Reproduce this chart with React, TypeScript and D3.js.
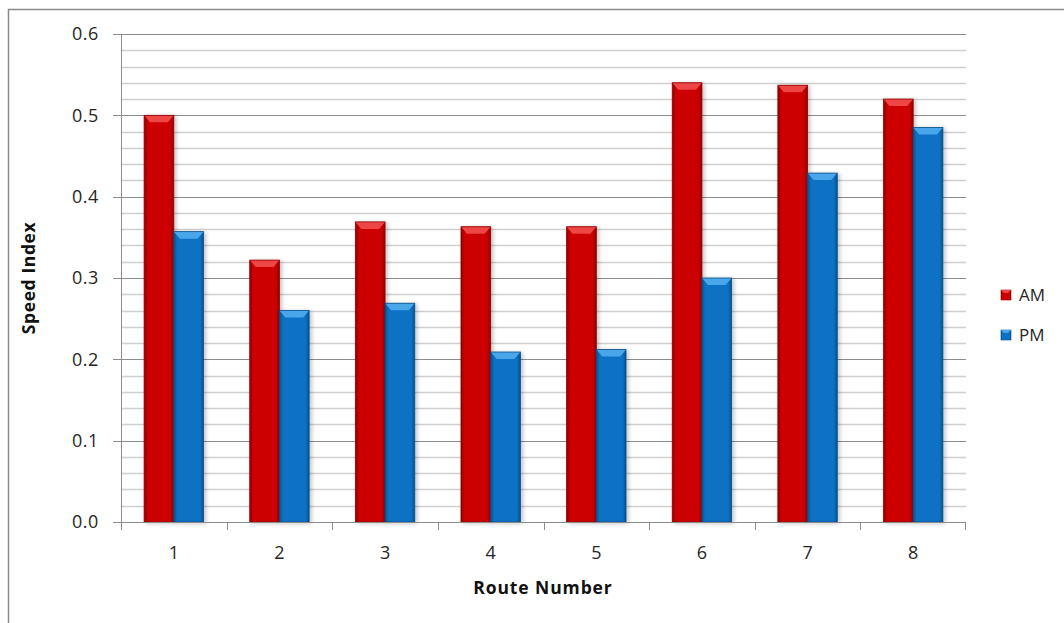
import React from "react";
import * as d3 from "d3";

const routes = ["1", "2", "3", "4", "5", "6", "7", "8"];
const amValues = [0.5, 0.322, 0.369, 0.363, 0.363, 0.54, 0.537, 0.52];
const pmValues = [0.357, 0.26, 0.269, 0.209, 0.212, 0.3, 0.429, 0.485];
const seriesNames = ["AM", "PM"];
const yTicks = [0, 0.1, 0.2, 0.3, 0.4, 0.5, 0.6];

const W = 1064;
const H = 623;
const left = 121;
const right = 966;
const top = 34;
const bottom = 522;
const FONT = "'Open Sans', sans-serif";

export default function App() {
  const x = d3.scaleBand<string>().domain(routes).range([left, right]).paddingInner(0).paddingOuter(0);
  const inner = d3.scaleBand<string>().domain(seriesNames).range([0, 59.4]);
  const y = d3.scaleLinear().domain([0, 0.6]).range([bottom, top]);
  const minor = d3.range(0, 31).map((i) => i * 0.02);
  const colors: Record<string, { base: string; dark: string; light: string }> = {
    AM: { base: "#cc0000", dark: "#8f0000", light: "#ee4444" },
    PM: { base: "#0a72c4", dark: "#07508c", light: "#4aa6ea" },
  };
  const data = [amValues, pmValues];
  const groupOffset = (x.bandwidth() - 59.4) / 2;

  return (
    <svg width={W} height={H} style={{ position: "absolute", left: 0, top: 0, background: "#fff" }}>
      <defs>
        {seriesNames.map((s) => (
          <linearGradient key={s} id={`g${s}`} x1="0" x2="1" y1="0" y2="0">
            <stop offset="0" stopColor={colors[s].dark} />
            <stop offset="0.12" stopColor={colors[s].base} />
            <stop offset="0.88" stopColor={colors[s].base} />
            <stop offset="1" stopColor={colors[s].dark} />
          </linearGradient>
        ))}
        <filter id="sh" x="-30%" y="-10%" width="160%" height="120%">
          <feGaussianBlur in="SourceAlpha" stdDeviation="2" />
          <feOffset dx="2" dy="1" result="b" />
          <feComponentTransfer>
            <feFuncA type="linear" slope="0.25" />
          </feComponentTransfer>
          <feMerge>
            <feMergeNode />
            <feMergeNode in="SourceGraphic" />
          </feMerge>
        </filter>
      </defs>
      <rect x={8.5} y={9.5} width={1200} height={800} fill="none" stroke="#8a8a8a" strokeWidth={1.5} />
      {minor.map((v, i) => (
        <line
          key={"m" + i}
          x1={left}
          x2={right}
          y1={Math.round(y(v)) + 0.5}
          y2={Math.round(y(v)) + 0.5}
          stroke={i % 5 === 0 ? "#8c8c8c" : "#cfcfcf"}
          strokeWidth={i % 5 === 0 ? 1 : 1.5}
        />
      ))}
      <line x1={left + 0.5} x2={left + 0.5} y1={top} y2={bottom} stroke="#8c8c8c" />
      {yTicks.map((t) => (
        <g key={t}>
          <line x1={113} x2={left} y1={Math.round(y(t)) + 0.5} y2={Math.round(y(t)) + 0.5} stroke="#8c8c8c" />
          <text x={99} y={y(t)} dy="0.36em" textAnchor="end" fontFamily={FONT} fontSize={18} letterSpacing={0.6} fill="#262626">
            {t.toFixed(1)}
          </text>
        </g>
      ))}
      {routes.map((r, i) => (
        <g key={r}>
          {data.map((vals, si) => {
            const s = seriesNames[si];
            const bx = (x(r) as number) + groupOffset + (inner(s) as number);
            const bw = inner.bandwidth();
            const by = y(vals[i]);
            const bh = bottom - by;
            return (
              <g key={s} filter="url(#sh)">
                <rect x={bx} y={by} width={bw} height={bh} fill={`url(#g${s})`} />
                <path
                  d={`M${bx},${by} L${bx + bw},${by} L${bx + bw - 6},${by + 7} L${bx + 6},${by + 7} Z`}
                  fill={colors[s].light}
                />
                <rect x={bx} y={by} width={bw} height={bh} fill="none" stroke={colors[s].dark} strokeWidth={0.8} />
              </g>
            );
          })}
        </g>
      ))}
      <line x1={113} x2={right} y1={bottom + 0.5} y2={bottom + 0.5} stroke="#8c8c8c" />
      {routes.map((r) => (
        <line key={"t" + r} x1={Math.round(x(r) as number) + 0.5} x2={Math.round(x(r) as number) + 0.5} y1={bottom} y2={bottom + 8} stroke="#8c8c8c" />
      ))}
      <line x1={right - 0.5} x2={right - 0.5} y1={bottom} y2={bottom + 8} stroke="#8c8c8c" />
      {routes.map((r) => (
        <text key={"l" + r} x={(x(r) as number) + x.bandwidth() / 2} y={553} dy="0.36em" textAnchor="middle" fontFamily={FONT} fontSize={18} fill="#262626">
          {r}
        </text>
      ))}
      <text x={543} y={588} dy="0.36em" textAnchor="middle" fontFamily={FONT} fontSize={17.5} letterSpacing={0.9} fontWeight="bold" fill="#111">
        Route Number
      </text>
      <text transform="translate(29,278) rotate(-90)" dy="0.36em" textAnchor="middle" fontFamily={FONT} fontSize={17.5} letterSpacing={0.6} fontWeight="bold" fill="#111">
        Speed Index
      </text>
      {seriesNames.map((s, i) => (
        <g key={"lg" + s} transform={`translate(0,${i * 40})`}>
          <rect x={1001} y={290} width={10} height={10} fill={`url(#g${s})`} stroke={colors[s].dark} strokeWidth={0.6} />
          <path d={`M1001,290 L1011,290 L1008,293 L1004,293 Z`} fill={colors[s].light} />
          <text x={1019} y={295} dy="0.36em" fontFamily={FONT} fontSize={17} fill="#262626">
            {s}
          </text>
        </g>
      ))}
    </svg>
  );
}
